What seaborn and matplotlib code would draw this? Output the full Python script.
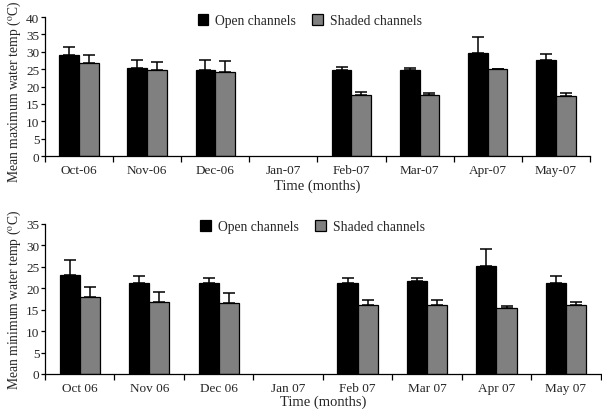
import numpy as np
import pandas as pd
import matplotlib
matplotlib.use("Agg")
import matplotlib.pyplot as plt
import seaborn as sns

# data
months_top = ["Oct-06", "Nov-06", "Dec-06", "Jan-07", "Feb-07", "Mar-07", "Apr-07", "May-07"]
months_bot = ["Oct 06", "Nov 06", "Dec 06", "Jan 07", "Feb 07", "Mar 07", "Apr 07", "May 07"]
series = ["Open channels", "Shaded channels"]

max_open = [29.0, 25.4, 24.7, np.nan, 24.9, 24.7, 29.6, 27.5]
max_open_err = [2.4, 2.3, 3.0, np.nan, 0.8, 0.5, 4.7, 1.9]
max_shaded = [26.7, 24.9, 24.1, np.nan, 17.6, 17.5, 25.1, 17.2]
max_shaded_err = [2.3, 2.1, 3.2, np.nan, 0.9, 0.6, 0.0, 0.9]

min_open = [23.2, 21.2, 21.2, np.nan, 21.2, 21.7, 25.3, 21.2]
min_open_err = [3.5, 1.7, 1.2, np.nan, 1.2, 0.7, 3.9, 1.7]
min_shaded = [17.9, 16.9, 16.6, np.nan, 16.1, 16.1, 15.4, 16.1]
min_shaded_err = [2.5, 2.2, 2.3, np.nan, 1.1, 1.1, 0.5, 0.8]

colors = ["#000000", "#808080"]

sns.set_theme(style="white")
plt.rcParams["font.family"] = ["Liberation Serif", "DejaVu Serif"]
plt.rcParams["mathtext.fontset"] = "stix"


def panel(ax, months, open_v, open_e, shaded_v, shaded_e, ylabel, ymax,
          legend_x, xlabel_y, ylabel_y):
    df = pd.DataFrame({
        "month": months * 2,
        "series": [series[0]] * len(months) + [series[1]] * len(months),
        "value": list(open_v) + list(shaded_v),
    })
    errs = {series[0]: open_e, series[1]: shaded_e}
    sns.barplot(data=df, x="month", y="value", hue="series", order=months,
                hue_order=series, palette=colors, width=0.58, gap=0,
                errorbar=None, edgecolor="black", linewidth=0.9, ax=ax,
                saturation=1)

    # upper-only error bars
    for cont, name in zip(ax.containers, series):
        for p in cont.patches:
            h = p.get_height()
            if np.isnan(h):
                continue
            xc = p.get_x() + p.get_width() / 2
            i = int(round(xc))
            e = errs[name][i]
            ax.errorbar(xc, h, yerr=[[0], [e]], fmt="none", ecolor="black",
                        elinewidth=1.1, capsize=4.5, capthick=1.1)

    ax.set_xlim(-0.5, len(months) - 0.5)
    ax.set_ylim(0, ymax)
    ax.set_yticks(np.arange(0, ymax + 1, 5))
    ax.set_xticks(np.arange(len(months)))
    ax.set_xticklabels(months, fontsize=9.5)
    ax.set_xticks(np.arange(-0.5, len(months)), minor=True)
    ax.tick_params(axis="x", which="major", length=0, pad=6)
    ax.tick_params(axis="x", which="minor", length=4, width=0.9, color="black",
                   direction="out", bottom=True)
    ax.tick_params(axis="y", length=3, width=0.9, color="black", direction="out",
                   left=True, labelsize=9.5, pad=1)
    for s in ["top", "right"]:
        ax.spines[s].set_visible(False)
    for s in ["left", "bottom"]:
        ax.spines[s].set_color("black")
        ax.spines[s].set_linewidth(0.9)
    ax.set_xlabel("Time (months)", fontsize=10.5, labelpad=0)
    ax.xaxis.set_label_coords(0.5, xlabel_y)
    ax.set_ylabel(ylabel, fontsize=9.8)
    ax.yaxis.set_label_coords(-0.040, ylabel_y)

    ax.legend(ncol=2, loc="upper left", bbox_to_anchor=(legend_x, 1.06),
              frameon=False, fontsize=9.8, handlelength=0.8, handleheight=0.8,
              handletextpad=0.5, columnspacing=1.2, borderaxespad=0)


fig = plt.figure(figsize=(6.02, 4.10), dpi=100)
ax1 = fig.add_axes([0.0748, 0.617, 0.905, 0.339])
ax2 = fig.add_axes([0.0748, 0.0854, 0.923, 0.366])

panel(ax1, months_top, max_open, max_open_err, max_shaded, max_shaded_err,
      r"Mean maximum water temp ($^{\mathrm{o}}$C)", 40, 0.27, -0.165, 0.47)
panel(ax2, months_bot, min_open, min_open_err, min_shaded, min_shaded_err,
      r"Mean minimum water temp ($^{\mathrm{o}}$C)", 35, 0.27, -0.14, 0.5)

fig.savefig("out.png", dpi=100)
